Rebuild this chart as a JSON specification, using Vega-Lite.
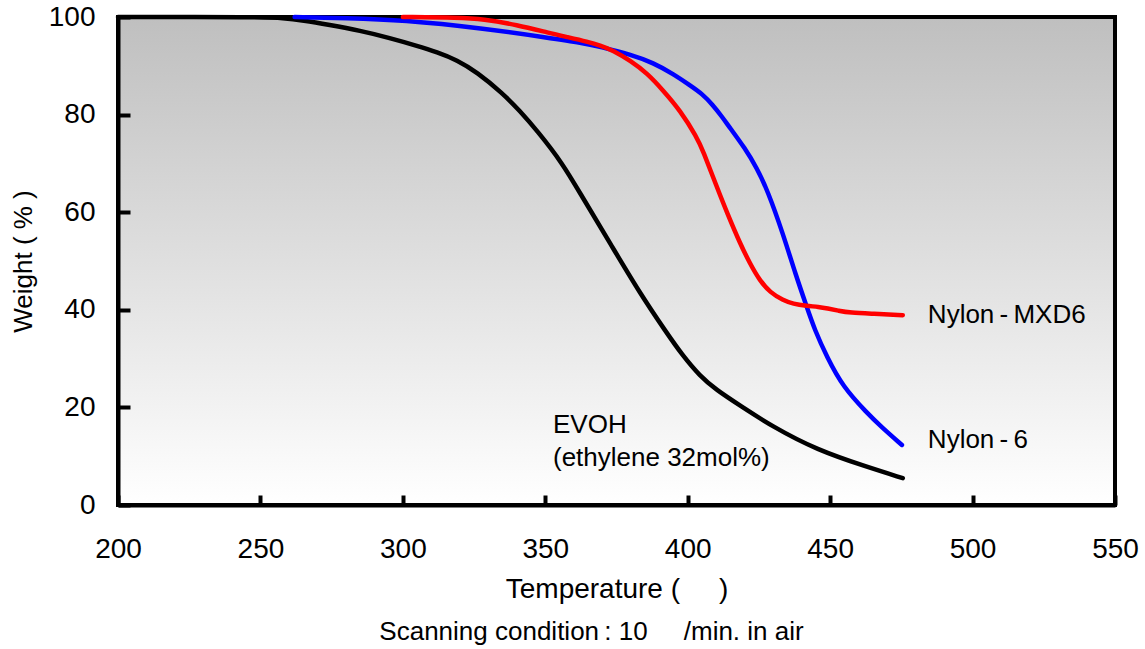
{
  "$schema": "https://vega.github.io/schema/vega-lite/v6.json",
  "autosize": {"type": "none"},
  "padding": {"left": 118, "top": 17, "right": 30, "bottom": 144},
  "width": 997,
  "height": 488,
  "background": "white",
  "config": {
    "font": "Liberation Sans",
    "view": {
      "stroke": "black",
      "strokeWidth": 4,
      "fill": {"gradient": "linear", "x1": 0, "y1": 0, "x2": 0, "y2": 1,
        "stops": [{"offset": 0, "color": "#bfbfbf"}, {"offset": 1, "color": "#ffffff"}]}
    },
    "axis": {
      "grid": false,
      "domainColor": "black",
      "domainWidth": 4,
      "tickColor": "black",
      "tickWidth": 4,
      "labelFont": "Liberation Sans",
      "labelFontSize": 28,
      "labelColor": "black",
      "labelFlush": false,
      "titleFont": "Liberation Sans",
      "titleFontWeight": "normal",
      "titleColor": "black"
    }
  },
  "title": {
    "text": "Scanning condition\u2009:\u00a010\u00a0\u00a0\u00a0\u00a0\u00a0/min. in air",
    "orient": "bottom",
    "anchor": "middle",
    "font": "Liberation Sans",
    "fontSize": 26,
    "fontWeight": "normal",
    "color": "black",
    "dx": -25,
    "offset": 16
  },
  "datasets": {
    "curves": [
      {"series": "EVOH", "T": 200, "W": 100},
      {"series": "EVOH", "T": 250, "W": 100},
      {"series": "EVOH", "T": 258, "W": 99.8},
      {"series": "EVOH", "T": 265, "W": 99.3},
      {"series": "EVOH", "T": 274, "W": 98.4},
      {"series": "EVOH", "T": 285, "W": 97.2},
      {"series": "EVOH", "T": 295.5, "W": 95.7},
      {"series": "EVOH", "T": 305, "W": 94.1},
      {"series": "EVOH", "T": 312, "W": 92.8},
      {"series": "EVOH", "T": 319, "W": 91.2},
      {"series": "EVOH", "T": 326, "W": 88.7},
      {"series": "EVOH", "T": 335, "W": 84.4},
      {"series": "EVOH", "T": 341, "W": 80.8},
      {"series": "EVOH", "T": 347, "W": 76.8},
      {"series": "EVOH", "T": 356, "W": 70.1},
      {"series": "EVOH", "T": 363, "W": 63.1},
      {"series": "EVOH", "T": 372.7, "W": 53.7},
      {"series": "EVOH", "T": 383.2, "W": 43.4},
      {"series": "EVOH", "T": 392.7, "W": 35.2},
      {"series": "EVOH", "T": 398, "W": 30.8},
      {"series": "EVOH", "T": 404.3, "W": 26.4},
      {"series": "EVOH", "T": 410, "W": 23.6},
      {"series": "EVOH", "T": 418.3, "W": 20.4},
      {"series": "EVOH", "T": 429.9, "W": 16.0},
      {"series": "EVOH", "T": 445.3, "W": 11.3},
      {"series": "EVOH", "T": 462.9, "W": 7.8},
      {"series": "EVOH", "T": 475.5, "W": 5.5},
      {"series": "Nylon-6", "T": 262, "W": 100},
      {"series": "Nylon-6", "T": 280, "W": 99.8},
      {"series": "Nylon-6", "T": 300, "W": 99.4},
      {"series": "Nylon-6", "T": 328, "W": 97.7},
      {"series": "Nylon-6", "T": 351.6, "W": 95.7},
      {"series": "Nylon-6", "T": 363, "W": 94.7},
      {"series": "Nylon-6", "T": 369.2, "W": 93.9},
      {"series": "Nylon-6", "T": 380, "W": 92.3},
      {"series": "Nylon-6", "T": 388, "W": 90.6},
      {"series": "Nylon-6", "T": 395, "W": 88.3},
      {"series": "Nylon-6", "T": 400.8, "W": 86.0},
      {"series": "Nylon-6", "T": 405, "W": 84.3},
      {"series": "Nylon-6", "T": 408.8, "W": 82.0},
      {"series": "Nylon-6", "T": 412, "W": 79.6},
      {"series": "Nylon-6", "T": 414.8, "W": 77.3},
      {"series": "Nylon-6", "T": 420, "W": 73.2},
      {"series": "Nylon-6", "T": 424.3, "W": 69.0},
      {"series": "Nylon-6", "T": 428, "W": 64.5},
      {"series": "Nylon-6", "T": 433.4, "W": 55.7},
      {"series": "Nylon-6", "T": 438, "W": 47.0},
      {"series": "Nylon-6", "T": 441.8, "W": 40.6},
      {"series": "Nylon-6", "T": 444.5, "W": 36.0},
      {"series": "Nylon-6", "T": 448.9, "W": 30.3},
      {"series": "Nylon-6", "T": 454.5, "W": 24.2},
      {"series": "Nylon-6", "T": 462.9, "W": 18.9},
      {"series": "Nylon-6", "T": 468, "W": 16.0},
      {"series": "Nylon-6", "T": 475.2, "W": 12.3},
      {"series": "Nylon-MXD6", "T": 300, "W": 100},
      {"series": "Nylon-MXD6", "T": 320, "W": 99.9},
      {"series": "Nylon-MXD6", "T": 328, "W": 99.6},
      {"series": "Nylon-MXD6", "T": 340, "W": 98.4},
      {"series": "Nylon-MXD6", "T": 351.6, "W": 96.7},
      {"series": "Nylon-MXD6", "T": 357.6, "W": 95.9},
      {"series": "Nylon-MXD6", "T": 365, "W": 94.9},
      {"series": "Nylon-MXD6", "T": 369.2, "W": 94.2},
      {"series": "Nylon-MXD6", "T": 373.7, "W": 93.2},
      {"series": "Nylon-MXD6", "T": 380, "W": 91.0},
      {"series": "Nylon-MXD6", "T": 385.7, "W": 88.5},
      {"series": "Nylon-MXD6", "T": 391.3, "W": 85.0},
      {"series": "Nylon-MXD6", "T": 397.3, "W": 80.9},
      {"series": "Nylon-MXD6", "T": 403.2, "W": 75.4},
      {"series": "Nylon-MXD6", "T": 405.3, "W": 72.7},
      {"series": "Nylon-MXD6", "T": 410.2, "W": 65.2},
      {"series": "Nylon-MXD6", "T": 414, "W": 59.6},
      {"series": "Nylon-MXD6", "T": 418.3, "W": 53.7},
      {"series": "Nylon-MXD6", "T": 422, "W": 49.3},
      {"series": "Nylon-MXD6", "T": 425.3, "W": 46.0},
      {"series": "Nylon-MXD6", "T": 429, "W": 43.5},
      {"series": "Nylon-MXD6", "T": 433.4, "W": 42.0},
      {"series": "Nylon-MXD6", "T": 437, "W": 41.2},
      {"series": "Nylon-MXD6", "T": 441.8, "W": 40.8},
      {"series": "Nylon-MXD6", "T": 446, "W": 40.6},
      {"series": "Nylon-MXD6", "T": 449, "W": 40.3},
      {"series": "Nylon-MXD6", "T": 453, "W": 39.8},
      {"series": "Nylon-MXD6", "T": 457, "W": 39.4},
      {"series": "Nylon-MXD6", "T": 465, "W": 39.2},
      {"series": "Nylon-MXD6", "T": 475.5, "W": 38.9}
    ],
    "labels": [
      {"label": "Nylon\u2009-\u2009MXD6", "T": 484.3, "W": 38.9},
      {"label": "Nylon\u2009-\u20096", "T": 484.3, "W": 13.3},
      {"label": "EVOH", "T": 352.7, "W": 16.4},
      {"label": "(ethylene 32mol%)", "T": 352.7, "W": 9.6}
    ]
  },
  "layer": [
    {
      "data": {"name": "curves"},
      "mark": {"type": "line", "interpolate": "basis", "strokeWidth": 4.5, "strokeCap": "round"},
      "encoding": {
        "x": {
          "field": "T", "type": "quantitative",
          "scale": {"domain": [200, 550], "nice": false, "zero": false},
          "axis": {
            "values": [200, 250, 300, 350, 400, 450, 500, 550],
            "tickSize": -10,
            "labelPadding": 40,
            "title": "Temperature (\u00a0\u00a0\u00a0\u00a0\u00a0)",
            "titleFontSize": 28,
            "titlePadding": 12
          }
        },
        "y": {
          "field": "W", "type": "quantitative",
          "scale": {"domain": [0, 100], "nice": false},
          "axis": {
            "values": [0, 20, 40, 60, 80, 100],
            "tickSize": -12,
            "labelPadding": 35,
            "title": "Weight ( % )",
            "titleFontSize": 26,
            "titlePadding": 12
          }
        },
        "color": {
          "field": "series", "type": "nominal",
          "scale": {"domain": ["EVOH", "Nylon-6", "Nylon-MXD6"], "range": ["#000000", "#0000ff", "#ff0000"]},
          "legend": null
        },
        "detail": {"field": "series"}
      }
    },
    {
      "data": {"name": "labels"},
      "mark": {"type": "text", "align": "left", "baseline": "middle", "fontSize": 26, "font": "Liberation Sans", "color": "black"},
      "encoding": {
        "x": {"field": "T", "type": "quantitative"},
        "y": {"field": "W", "type": "quantitative"},
        "text": {"field": "label"}
      }
    }
  ]
}
